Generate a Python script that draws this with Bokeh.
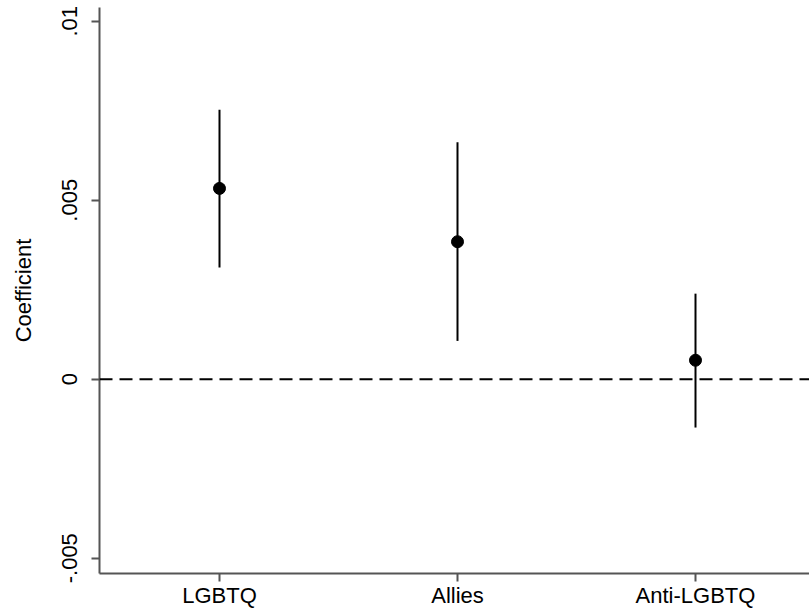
from bokeh.plotting import figure
from bokeh.models import Span, FixedTicker, Range1d
from bokeh.embed import file_html
from bokeh.resources import INLINE

categories = ["LGBTQ", "Allies", "Anti-LGBTQ"]
x_pos = [1, 2, 3]
coef = [0.00533, 0.00384, 0.00053]
ci_low = [0.00312, 0.00107, -0.00135]
ci_high = [0.00753, 0.00662, 0.00239]
y_ticks = [-0.005, 0, 0.005, 0.01]
y_tick_labels = ["-.005", "0", ".005", ".01"]

FONT = "Liberation Sans"

p = figure(width=809, height=611, output_backend="svg", toolbar_location=None,
           x_range=Range1d(0.4958, 3.479), y_range=Range1d(-0.005427, 0.010383),
           min_border_left=99, min_border_right=0, min_border_top=7, min_border_bottom=38)
p.outline_line_color = None
p.xgrid.visible = False
p.ygrid.visible = False

p.segment(x0=x_pos, y0=ci_low, x1=x_pos, y1=ci_high, line_color="black", line_width=2)
p.scatter(x=x_pos, y=coef, size=12, fill_color="black", line_color="black")

zero = Span(location=0, dimension="width", line_color="black", line_width=2, line_dash="13 7")
p.add_layout(zero)

for ax in (p.xaxis[0], p.yaxis[0]):
    ax.axis_line_color = "#555555"
    ax.axis_line_width = 2
    ax.major_tick_line_color = "#555555"
    ax.major_tick_line_width = 2
    ax.major_tick_out = 8
    ax.major_tick_in = 0
    ax.minor_tick_line_color = None
    ax.major_label_text_font = FONT
    ax.major_label_text_font_size = "22px"
    ax.major_label_text_color = "black"

p.xaxis.ticker = FixedTicker(ticks=x_pos)
p.xaxis.major_label_overrides = {x: c for x, c in zip(x_pos, categories)}
p.xaxis.major_label_standoff = 1

p.yaxis.ticker = FixedTicker(ticks=y_ticks)
p.yaxis.major_label_overrides = {t: l for t, l in zip(y_ticks, y_tick_labels)}
p.yaxis.major_label_orientation = "vertical"
p.yaxis.major_label_standoff = 14
p.yaxis.axis_label = "Coefficient"
p.yaxis.axis_label_text_font = FONT
p.yaxis.axis_label_text_font_size = "22px"
p.yaxis.axis_label_text_font_style = "normal"
p.yaxis.axis_label_text_color = "black"
p.yaxis.axis_label_standoff = 24

open("out.html", "w").write(file_html(p, INLINE))
